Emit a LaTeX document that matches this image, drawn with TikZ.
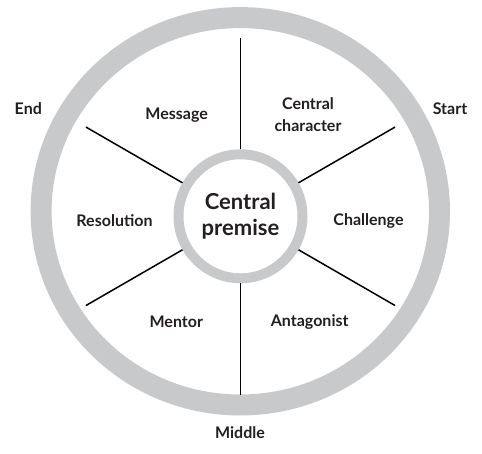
\documentclass[tikz,border=0pt]{standalone}
\usepackage{fontspec}
\setmainfont{Lato}
\usepackage{tikz}
\usetikzlibrary{shapes,positioning,calc}
\definecolor{wheelgrey}{HTML}{C8C9CB}
\definecolor{wheelink}{HTML}{231F20}
\tikzstyle{rim} = [draw=wheelgrey, line width=21pt]
\tikzstyle{hub} = [circle, draw=wheelgrey, line width=10pt, minimum size=124pt,
    inner sep=0pt, align=center, text=wheelink, font=\bfseries\fontsize{22}{26}\selectfont]
\tikzstyle{spoke} = [draw=black, line width=1.5pt]
\tikzstyle{segment} = [align=center, text=wheelink, font=\bfseries\fontsize{16}{22}\selectfont]
\tikzstyle{stage} = [segment]

\begin{document}
\begin{tikzpicture}[x=1pt, y=1pt]
\useasboundingbox (0,0) rectangle (482,453);
% grey rim of the wheel
\draw[rim] (240.3,241.7) ellipse [x radius=199.2, y radius=193.7];
\node[hub] (premise) at (240.5,236.7) {Central\\premise};

% six spokes out from the hub
\foreach \a in {90,30,-30,-90,210,150}
    \draw[spoke] (premise.\a) -- ($(premise.center)+(\a:178.5)$);

\node[segment] (message) at (176.7,338) {Message};
\node[segment] (character) at (308,338) {Central\\character};
\node[segment] (resolution) at (114.5,232.3) {Resolution};
\node[segment] (challenge) at (368.5,232.3) {Challenge};
\node[segment] (mentor) at (176.3,131.3) {Mentor};
\node[segment] (antagonist) at (309.7,131.3) {Antagonist};

% story stages round the rim
\node[stage] (start) at (450,344) {Start};
\node[stage] (middle) at (240,20) {Middle};
\node[stage] (end) at (28.3,344) {End};
\end{tikzpicture}
\end{document}
